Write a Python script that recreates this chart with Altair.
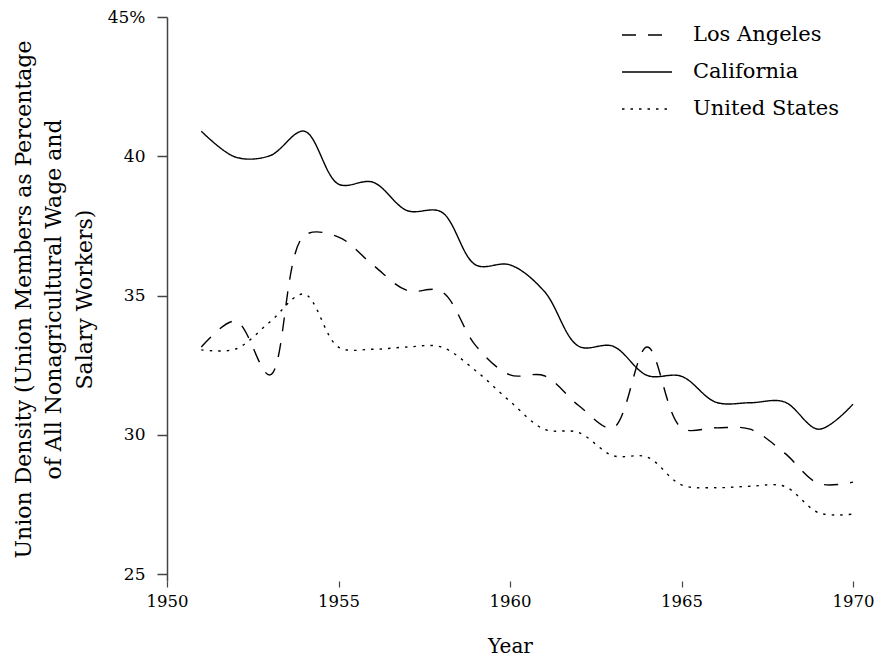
import altair as alt
import pandas as pd

years = list(range(1951, 1971))

los_angeles = [33.15, 34.08, 32.15, 37.15, 37.1, 36.1, 35.18, 35.15, 33.2, 32.15,
               32.12, 31.05, 30.25, 33.15, 30.25, 30.25, 30.2, 29.35, 28.25, 28.3]
california = [40.9, 39.97, 40.02, 40.9, 39.0, 39.07, 38.05, 38.0, 36.1, 36.1,
              35.15, 33.18, 33.18, 32.13, 32.1, 31.17, 31.15, 31.18, 30.2, 31.1]
united_states = [33.05, 33.08, 34.05, 35.05, 33.15, 33.07, 33.15, 33.15, 32.3, 31.2,
                 30.2, 30.08, 29.25, 29.2, 28.2, 28.1, 28.15, 28.15, 27.2, 27.15]

series_names = ["Los Angeles", "California", "United States"]
x_ticks = [1950, 1955, 1960, 1965, 1970]
y_ticks = [25, 30, 35, 40, 45]

rows = []
for name, vals in zip(series_names, [los_angeles, california, united_states]):
    for yr, v in zip(years, vals):
        rows.append({"Year": yr, "Density": v, "Series": name})
df = pd.DataFrame(rows)

FONT = "DejaVu Serif"

chart = alt.Chart(df).mark_line(
    color="black", strokeWidth=1.4, interpolate="catmull-rom"
).encode(
    x=alt.X("Year:Q",
            scale=alt.Scale(domain=[1950, 1970], nice=False, zero=False),
            axis=alt.Axis(values=x_ticks, format="d", title="Year", domain=False,
                          grid=False, tickSize=6, tickColor="#444", tickWidth=1.2,
                          labelFlush=False,
                          labelFont=FONT, labelFontSize=16.5, labelColor="black",
                          labelPadding=6, titleFont=FONT, titleFontSize=20,
                          titleFontWeight="normal", titleColor="black",
                          titlePadding=27)),
    y=alt.Y("Density:Q",
            scale=alt.Scale(domain=[24.75, 45], nice=False, zero=False),
            axis=alt.Axis(values=y_ticks, grid=False, labelFlush=False,
                          labelExpr="datum.value == 45 ? '45%' : datum.label",
                          title=["Union Density (Union Members as Percentage",
                                 "of All Nonagricultural Wage and",
                                 "Salary Workers)"],
                          domain=True, domainColor="#444", domainWidth=1.5,
                          tickSize=10, tickColor="#444", tickWidth=1.5,
                          labelFont=FONT, labelFontSize=17, labelColor="black",
                          labelPadding=12, titleFont=FONT, titleFontSize=22,
                          titleFontWeight="normal", titleColor="black",
                          titleLineHeight=30.5, titlePadding=11)),
    strokeDash=alt.StrokeDash("Series:N",
            scale=alt.Scale(domain=series_names,
                            range=[[14, 12], [1, 0], [2.5, 6]]),
            legend=alt.Legend(title=None, orient="none", legendX=454, legendY=-8,
                              symbolType="stroke", symbolSize=2500,
                              symbolStrokeWidth=1.4, symbolStrokeColor="black",
                              labelFont=FONT, labelFontSize=21, labelColor="black",
                              labelOffset=20, rowPadding=1)),
).properties(
    width=686, height=564,
    autosize=alt.AutoSizeParams(type="none"),
    padding={"left": 159, "top": 9, "right": 22, "bottom": 76},
).configure_view(stroke=None)

chart.save("out.html", embed_options={"renderer": "svg", "actions": False})
